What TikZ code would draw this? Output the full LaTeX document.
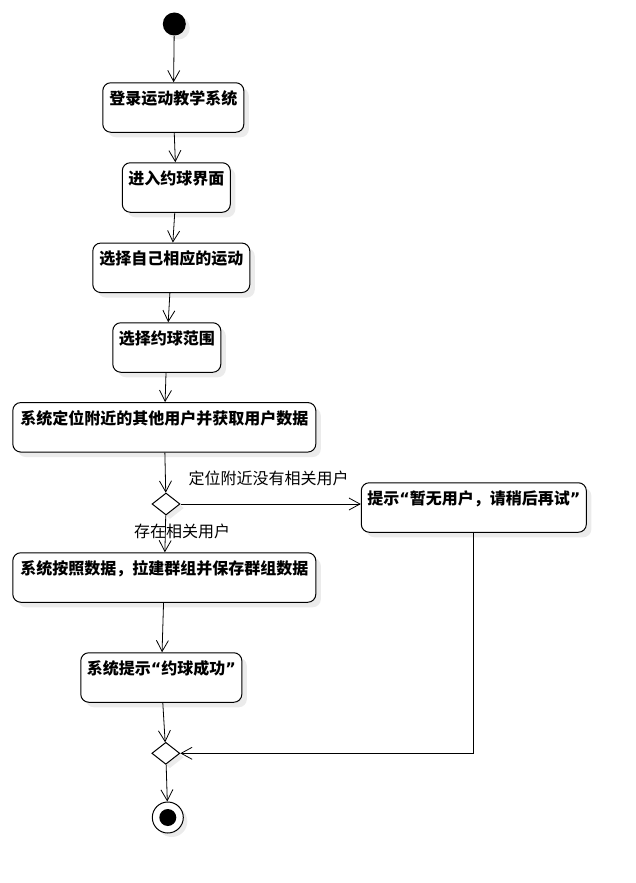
\documentclass[tikz,border=0pt]{standalone}
\usepackage{fontspec}
\setmainfont{Noto Sans CJK SC}
\newfontfamily\quotefont{DejaVu Sans}
\usepackage{tikz}
\usetikzlibrary{arrows.meta,shapes.geometric,shadows}

\newcommand{\openq}{{\quotefont “}}
\newcommand{\closeq}{{\quotefont ”}}

\tikzset{
  act/.style={draw, fill=white, line width=1pt, rounded corners=8pt,
    inner xsep=6pt, inner ysep=0pt, text height=21.5pt, text depth=28pt,
    font=\fontsize{16pt}{19pt}\selectfont\bfseries,
    drop shadow={shadow xshift=5pt, shadow yshift=-5pt, fill=black, opacity=0.08}},
  decision/.style={draw, fill=white, diamond, line width=1pt,
    minimum width=28pt, minimum height=22pt, inner sep=0pt,
    drop shadow={shadow xshift=4pt, shadow yshift=-4pt, fill=black, opacity=0.08}},
  guard/.style={font=\fontsize{16pt}{19pt}\selectfont, inner sep=0pt},
}

\begin{document}
\begin{tikzpicture}[x=1pt, y=-1pt, line width=0.8pt, >={Straight Barb[length=11pt,width=12pt]}]
\useasboundingbox (0,0) rectangle (635,883);

% nodes
\node[circle, fill=black, minimum size=23pt, inner sep=0pt, drop shadow={shadow xshift=4pt, shadow yshift=-4pt, fill=black, opacity=0.08}] (start) at (174.3,24) {};
\node[act, minimum width=141pt] (login) at (173.3,107.5) {登录运动教学系统};
\node[act, minimum width=108pt] (enter) at (176.3,187.5) {进入约球界面};
\node[act, minimum width=157pt] (sport) at (171.3,267.8) {选择自己相应的运动};
\node[act, minimum width=108pt] (range) at (166.8,347.5) {选择约球范围};
\node[act, minimum width=303pt] (locate) at (164.3,427.3) {系统定位附近的其他用户并获取用户数据};
\node[decision] (check) at (166,504) {};
\node[act, minimum width=222pt] (nouser) at (473.8,507.5) {提示\openq 暂无用户，请稍后再试\closeq};
\node[act, minimum width=303pt] (group) at (164.3,577.5) {系统按照数据，拉建群组并保存群组数据};
\node[act, minimum width=157pt] (success) at (161.3,677.5) {系统提示\openq 约球成功\closeq};
\node[decision] (merge) at (165.8,753.3) {};
\node[circle, draw, fill=white, line width=1pt, minimum size=31pt, inner sep=0pt, drop shadow={shadow xshift=4pt, shadow yshift=-4pt, fill=black, opacity=0.08}] (finish) at (167.8,817.5) {};
\node[circle, fill=black, minimum size=17pt, inner sep=0pt] (finishdot) at (finish) {};

% flows
\draw[->] (start) -- (login);
\draw[->] (login) -- (enter);
\draw[->] (enter) -- (sport);
\draw[->] (sport) -- (range);
\draw[->] (range) -- (locate);
\draw[->] (locate) -- (check);
\draw[->] (check.east) -- (check.east -| nouser.west);
\draw[->] (check) -- (group);
\draw[->] (group) -- (success);
\draw[->] (success) -- (merge);
\draw[->] (nouser) |- (merge);
\draw[->] (merge) -- (finish);

% guards
\node[guard] (nolabel) at (268.5,478) {定位附近没有相关用户};
\node[guard] (yeslabel) at (182,531) {存在相关用户};
\end{tikzpicture}
\end{document}
